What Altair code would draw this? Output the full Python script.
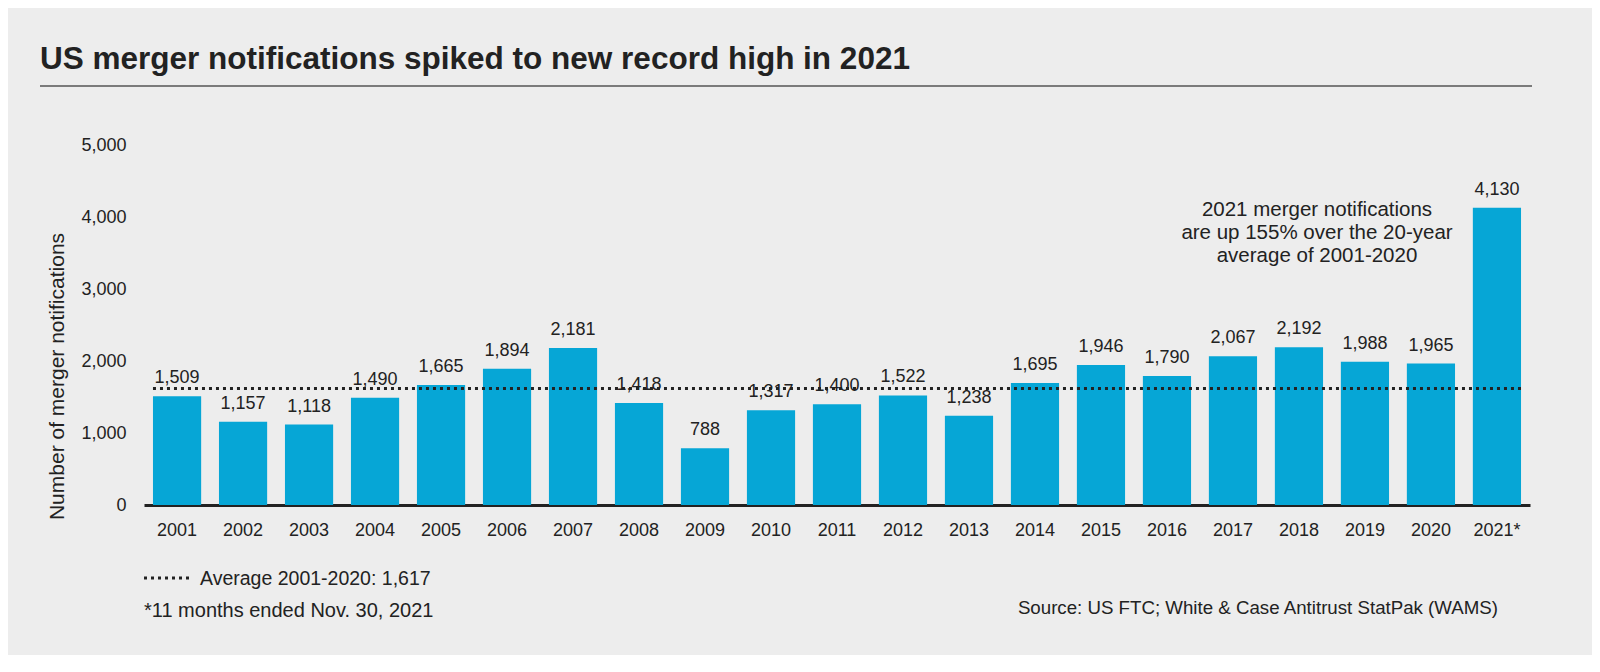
import altair as alt
import pandas as pd

years = ["2001", "2002", "2003", "2004", "2005", "2006", "2007", "2008", "2009", "2010",
         "2011", "2012", "2013", "2014", "2015", "2016", "2017", "2018", "2019", "2020", "2021*"]
counts = [1509, 1157, 1118, 1490, 1665, 1894, 2181, 1418, 788, 1317,
          1400, 1522, 1238, 1695, 1946, 1790, 2067, 2192, 1988, 1965, 4130]
average = 1617
y_ticks = [0, 1000, 2000, 3000, 4000, 5000]

title_text = "US merger notifications spiked to new record high in 2021"
y_title = "Number of merger notifications"
annotation_lines = ["2021 merger notifications", "are up 155% over the 20-year", "average of 2001-2020"]
legend_label = "Average 2001-2020: 1,617"
footnote = "*11 months ended Nov. 30, 2021"
source = "Source: US FTC; White & Case Antitrust StatPak (WAMS)"

FONT = "Liberation Sans"
TXT = "#222222"
BLUE = "#06a6d6"
BG = "#ededed"

df = pd.DataFrame({"year": years, "count": counts})

x_enc = alt.X(
    "year:N", sort=years, title=None,
    scale=alt.Scale(paddingInner=0.27, paddingOuter=0.136),
    axis=alt.Axis(labelAngle=0, domainColor="#222222", domainWidth=3, ticks=False,
                  labelFontSize=18, labelPadding=16, labelColor=TXT, labelFont=FONT),
)
y_enc = alt.Y(
    "count:Q", scale=alt.Scale(domain=[0, 5000]), title=y_title,
    axis=alt.Axis(values=y_ticks, format=",.0f", domain=False, ticks=False, grid=False,
                  labelFontSize=18, labelPadding=18, labelColor=TXT, labelFont=FONT,
                  titleFontSize=21, titleFontWeight="normal", titleColor=TXT, titleFont=FONT,
                  titleX=-87, titleY=231, titleAngle=270, titleBaseline="middle", titleAlign="center"),
)

base = alt.Chart(df)
bars = base.mark_bar(color=BLUE).encode(x=x_enc, y=y_enc)
labels = base.mark_text(baseline="alphabetic", dy=-13, fontSize=18, font=FONT, color=TXT).encode(
    x=alt.X("year:N", sort=years), y="count:Q", text=alt.Text("count:Q", format=",.0f")
)

avg_rule = alt.Chart(pd.DataFrame({"avg": [average]})).mark_rule(
    color="#222222", strokeWidth=3, strokeDash=[3, 4]
).encode(
    y="avg:Q",
    x=alt.XDatum("2001", bandPosition=0),
    x2=alt.X2Datum("2021*", bandPosition=1),
)

one = pd.DataFrame({"k": [0]})

legend_rule = alt.Chart(one).mark_rule(color="#222222", strokeWidth=3, strokeDash=[3, 4]).encode(
    x=alt.value(0), x2=alt.value(47), y=alt.value(433)
)
legend_text = alt.Chart(pd.DataFrame({"t": [legend_label]})).mark_text(
    align="left", baseline="alphabetic", fontSize=19.5, font=FONT, color=TXT
).encode(x=alt.value(56), y=alt.value(440), text="t:N")

foot_text = alt.Chart(pd.DataFrame({"t": [footnote]})).mark_text(
    align="left", baseline="alphabetic", fontSize=20, font=FONT, color=TXT
).encode(x=alt.value(0), y=alt.value(472), text="t:N")

source_text = alt.Chart(pd.DataFrame({"t": [source]})).mark_text(
    align="right", baseline="alphabetic", fontSize=18.7, font=FONT, color=TXT
).encode(x=alt.value(1354), y=alt.value(469), text="t:N")

annot = alt.Chart(one).mark_text(
    text=annotation_lines, align="center", baseline="top", lineHeight=23,
    fontSize=20.5, font=FONT, color=TXT
).encode(x=alt.value(1173), y=alt.value(55))

title_rule = alt.Chart(one).mark_rule(color="#555555", strokeWidth=1.5).encode(
    x=alt.value(-104), x2=alt.value(1388), y=alt.value(-59)
)

chart = alt.layer(
    bars, labels, avg_rule, legend_rule, legend_text, foot_text, source_text, annot, title_rule
).properties(
    width=1386, height=360,
    background=BG,
    padding={"left": 136, "top": 137, "right": 62, "bottom": 150},
    autosize=alt.AutoSizeParams(type="none"),
    title=alt.Title(title_text, anchor="start", frame="group", dx=-104, fontSize=31.5, font=FONT,
                    fontWeight="bold", color=TXT, offset=10),
).configure_view(stroke=None)

chart.save("out.html", embed_options={"renderer": "svg", "actions": False})
